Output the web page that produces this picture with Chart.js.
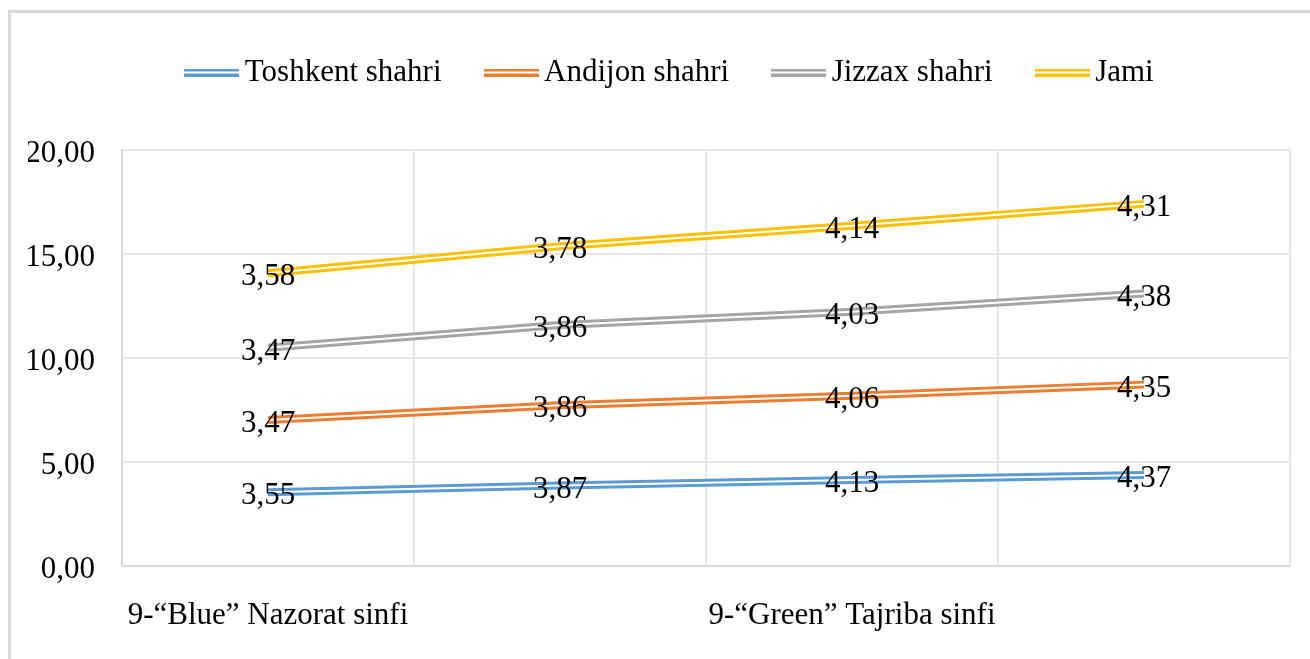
<!DOCTYPE html>
<html>
<head>
<meta charset="utf-8">
<script src="https://cdn.jsdelivr.net/npm/chart.js@4"></script>
<style>
  html, body { margin: 0; padding: 0; background: #fff; }
  #wrap { width: 1310px; height: 659px; }
</style>
</head>
<body>
<div id="wrap"><canvas id="chart" width="1310" height="659"></canvas></div>
<script>
const categories = ["9-\u201cBlue\u201d Nazorat sinfi", "", "9-\u201cGreen\u201d Tajriba sinfi", ""];
const seriesNames = ["Toshkent shahri", "Andijon shahri", "Jizzax shahri", "Jami"];
const toshkent = [3.55, 3.87, 4.13, 4.37];
const andijon = [3.47, 3.86, 4.06, 4.35];
const jizzax = [3.47, 3.86, 4.03, 4.38];
const jami = [3.58, 3.78, 4.14, 4.31];
const yTicks = [0, 5, 10, 15, 20];

const colors = ["#5b9bd5", "#ed7d31", "#a5a5a5", "#ffc000"];
const FONT = '"Liberation Serif", "Times New Roman", serif';

const fmt = (v) => Number(v).toFixed(2).replace(".", ",");

// legend symbol: a double line like Excel's compound line
function legendLine(color) {
  const c = document.createElement("canvas");
  c.width = 55;
  c.height = 8;
  const g = c.getContext("2d");
  g.fillStyle = color;
  g.fillRect(0, 0, 55, 8);
  g.fillStyle = "#fff";
  g.fillRect(0, 3, 55, 2);
  return c;
}

const frame = {
  id: "frame",
  afterInit(chart) {
    // fixed legend height so the plot area starts where the reference does
    const fit = chart.legend.fit;
    chart.legend.fit = function () {
      fit.call(this);
      this.height = 145;
    };
  },
  afterLayout(chart) {
    // legend sits a bit right of the canvas centre in the reference
    chart.legend.left += 30;
  },
  beforeDraw(chart) {
    const ctx = chart.ctx;
    ctx.save();
    ctx.fillStyle = "#fff";
    ctx.fillRect(0, 0, chart.width, chart.height);
    ctx.strokeStyle = "#d9d9d9";
    ctx.lineWidth = 3;
    ctx.strokeRect(9.5, 11.5, 1400, 700);
    ctx.restore();
  },
};

const doubleLine = {
  id: "doubleLine",
  afterDatasetsDraw(chart) {
    const ctx = chart.ctx;
    chart.data.datasets.forEach((ds, i) => {
      const meta = chart.getDatasetMeta(i);
      ctx.save();
      ctx.strokeStyle = "#fff";
      ctx.lineWidth = 2;
      ctx.beginPath();
      meta.data.forEach((p, j) => {
        if (j === 0) ctx.moveTo(p.x, p.y);
        else ctx.lineTo(p.x, p.y);
      });
      ctx.stroke();
      ctx.restore();
    });
    // data labels on top of every line
    ctx.save();
    ctx.font = "31px " + FONT;
    ctx.fillStyle = "#000";
    ctx.textAlign = "center";
    ctx.textBaseline = "middle";
    chart.data.datasets.forEach((ds, i) => {
      const meta = chart.getDatasetMeta(i);
      meta.data.forEach((p, j) => {
        ctx.fillText(fmt(ds.data[j]), p.x, p.y + 4);
      });
    });
    ctx.restore();
  },
};

const values = [toshkent, andijon, jizzax, jami];

new Chart(document.getElementById("chart").getContext("2d"), {
  type: "line",
  data: {
    labels: categories,
    datasets: values.map((v, i) => ({
      label: seriesNames[i],
      data: v,
      borderColor: colors[i],
      backgroundColor: colors[i],
      borderWidth: 8,
      pointRadius: 0,
      pointHoverRadius: 0,
      tension: 0,
      fill: false,
      pointStyle: legendLine(colors[i]),
    })),
  },
  options: {
    responsive: false,
    animation: false,
    events: [],
    layout: { padding: { left: 28, right: 20, top: 5, bottom: 0 } },
    plugins: {
      tooltip: { enabled: false },
      legend: {
        position: "top",
        labels: {
          usePointStyle: true,
          pointStyleWidth: 35,
          padding: 52,
          color: "#000",
          font: { family: FONT, size: 31 },
        },
      },
    },
    scales: {
      x: {
        offset: true,
        grid: { offset: true, color: "#e6e6e6", lineWidth: 2, drawTicks: false },
        border: { color: "#d9d9d9", width: 2 },
        ticks: {
          autoSkip: false,
          maxRotation: 0,
          padding: 31,
          color: "#000",
          font: { family: FONT, size: 31 },
        },
        afterFit: (axis) => {
          axis.height = 93;
          axis.paddingLeft = 0;
          axis.paddingRight = 0;
        },
      },
      y: {
        stacked: true,
        min: 0,
        max: 20,
        afterBuildTicks: (axis) => {
          axis.ticks = yTicks.map((v) => ({ value: v }));
        },
        grid: { color: "#e6e6e6", lineWidth: 2, drawTicks: false },
        border: { color: "#d9d9d9", width: 2 },
        ticks: {
          padding: 27,
          labelOffset: 4,
          color: "#000",
          font: { family: FONT, size: 31 },
          callback: (v) => fmt(v),
        },
        afterFit: (axis) => {
          axis.width = 94;
        },
      },
    },
  },
  plugins: [frame, doubleLine],
});
</script>
</body>
</html>
